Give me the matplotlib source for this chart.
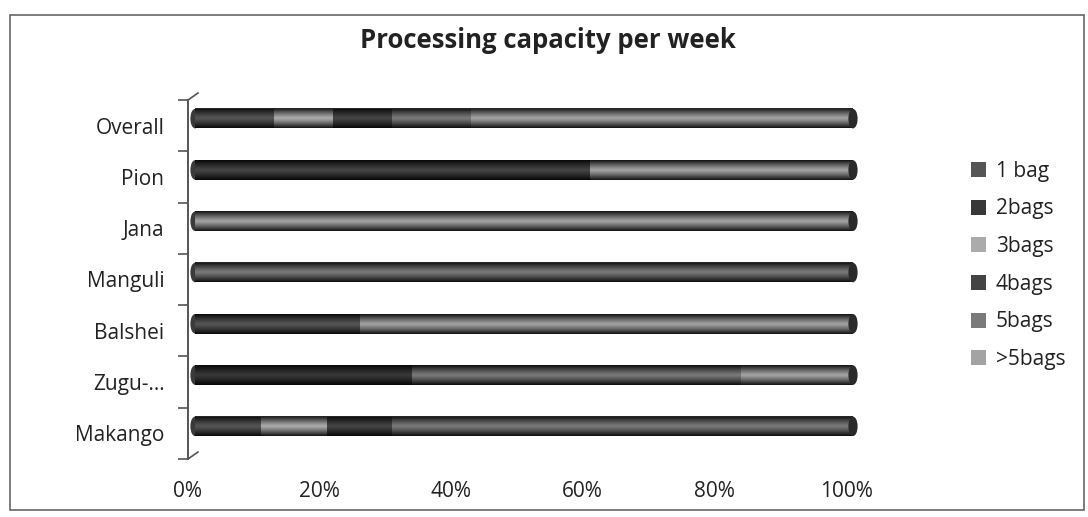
import numpy as np
import matplotlib.pyplot as plt
from matplotlib.patches import Ellipse, Patch, Rectangle
from matplotlib.lines import Line2D

plt.rcParams['font.family'] = ['Open Sans', 'DejaVu Sans']

# categories listed bottom to top
sites = ['Makango', 'Zugu-...', 'Balshei', 'Manguli', 'Jana', 'Pion', 'Overall']
series = ['1 bag', '2bags', '3bags', '4bags', '5bags', '>5bags']

# share of households (%) per series, same order as sites
one_bag = [10, 0, 25, 0, 0, 0, 12]
two_bags = [0, 33, 0, 0, 0, 0, 0]
three_bags = [10, 0, 0, 0, 0, 0, 9]
four_bags = [10, 0, 0, 0, 0, 60, 9]
five_bags = [70, 50, 0, 100, 0, 0, 12]
more_bags = [0, 17, 75, 0, 100, 40, 58]

values = [one_bag, two_bags, three_bags, four_bags, five_bags, more_bags]
colors = ['#555555', '#383838', '#ababab', '#444444', '#7a7a7a', '#a3a3a3']

W, H = 1088, 517
fig = plt.figure(figsize=(W/100, H/100), dpi=100)
rect = [188/W, 1 - 459/H, 658/W, 359/H]
ax = fig.add_axes(rect)
# second axes carries the cylinders, pushed back by the 3D depth
bx = fig.add_axes([rect[0] + 7/W, rect[1] + 7/H, rect[2], rect[3]], zorder=3)
bx.axis('off')

ypos = np.arange(len(sites))
bar_h = 0.38

# cylinder shading profile (dark rims, light centre)
t = np.linspace(0, 1, 80)
shade = np.zeros((len(t), 1, 4))
shade[:, 0, 3] = 0.9 * np.abs(2*t - 1)**1.2

for i, y in enumerate(ypos):
    left = 0
    for vals, col in zip(values, colors):
        w = vals[i]
        if w <= 0:
            continue
        bx.barh(y, w, left=left, height=bar_h, color=col, edgecolor='none', zorder=3)
        left += w
    # rounded left end
    bx.add_patch(Ellipse((0, y), 1.4, bar_h, facecolor='#3a3a3a', edgecolor='none',
                         zorder=2, clip_on=False))
    bx.imshow(shade, extent=(0, 100, y - bar_h/2, y + bar_h/2), aspect='auto',
              interpolation='bilinear', zorder=4)
    # right end cap
    bx.add_patch(Ellipse((100, y), 1.4, bar_h, facecolor='#2a2a2a', edgecolor='none',
                         zorder=5, clip_on=False))

for a in (ax, bx):
    a.set_xlim(0, 100)
    a.set_ylim(-0.5, len(sites) - 0.5)

ax.set_xticks(np.arange(0, 101, 20))
ax.set_xticklabels([f'{v}%' for v in range(0, 101, 20)], fontsize=15, color='#222222')
ax.set_yticks(ypos)
ax.set_yticklabels(sites, fontsize=15, color='#222222')
ax.tick_params(axis='y', length=0, pad=17)
ax.tick_params(axis='x', length=0, pad=16)
ax.set_yticks(np.arange(-0.5, len(sites), 1), minor=True)
ax.tick_params(axis='y', which='minor', length=7, color='#555555', width=1.2)

for s in ['top', 'right', 'bottom']:
    ax.spines[s].set_visible(False)
ax.spines['left'].set_color('#555555')
ax.spines['left'].set_linewidth(1.4)

# short wall edges of the 3D frame
for yb in (0, 1):
    ax.add_line(Line2D([0, 10/658], [yb, yb + 7/359], transform=ax.transAxes,
                       color='#555555', lw=1.2, clip_on=False))

fig.text(548/W, 1 - 40/H, 'Processing capacity per week', fontsize=18.5,
         fontweight='bold', color='#222222', ha='center', va='center')

handles = [Patch(facecolor=c, edgecolor='none') for c in colors]
fig.legend(handles, series, loc='upper left', bbox_to_anchor=(952/W, 1 - 142/H),
           frameon=False, fontsize=15, handlelength=0.75, handleheight=0.75,
           handletextpad=0.45, labelspacing=0.8, labelcolor='#222222')

fig.patches.append(Rectangle((10/W, 1 - 510/H), 1074/W, 495/H,
                             transform=fig.transFigure, fill=False,
                             edgecolor='#666666', lw=1.2))

fig.savefig('out.png', dpi=100)
